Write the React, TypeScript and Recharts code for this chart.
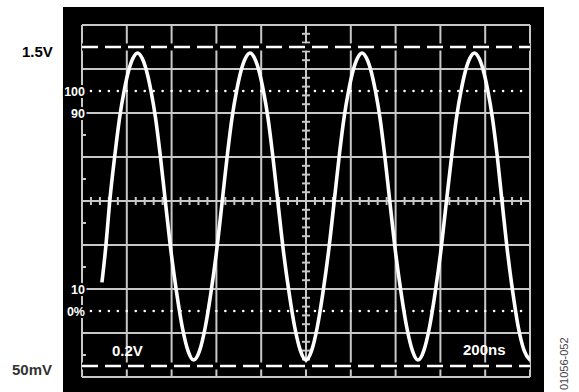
import React from 'react';
import { LineChart, Line, XAxis, YAxis, ReferenceLine } from 'recharts';

// Waveform: time (ns) and voltage (V)
const TIME_NS = [
  89, 107, 123, 148, 168, 188, 208, 228, 248, 268, 288, 308, 328, 348, 373, 398, 423, 448, 473, 498,
  525, 550, 575, 600, 625, 650, 670, 690, 710, 730, 750, 770, 790, 810, 830, 850, 875, 900, 925, 950, 975, 1000,
  1025, 1050, 1075, 1100, 1125, 1150, 1170, 1190, 1210, 1230, 1250, 1270, 1290, 1310, 1330, 1350, 1375, 1400, 1425, 1450, 1475, 1500,
  1526, 1551, 1576, 1601, 1626, 1652, 1672, 1692, 1712, 1732, 1752, 1772, 1792, 1812, 1832, 1852, 1876, 1900, 1924, 1948, 1974, 2000,
];
const VOLTS = [
  0.43, 0.6, 0.79, 1.02, 1.18, 1.3, 1.392, 1.45, 1.473, 1.45, 1.392, 1.3, 1.18, 1.02, 0.79, 0.565, 0.38, 0.225, 0.12, 0.077,
  0.12, 0.225, 0.38, 0.565, 0.79, 1.02, 1.18, 1.3, 1.392, 1.45, 1.473, 1.45, 1.392, 1.3, 1.18, 1.02, 0.79, 0.565, 0.38, 0.225, 0.12, 0.077,
  0.12, 0.225, 0.38, 0.565, 0.79, 1.02, 1.18, 1.3, 1.392, 1.45, 1.473, 1.45, 1.392, 1.3, 1.18, 1.02, 0.79, 0.565, 0.38, 0.225, 0.12, 0.077,
  0.12, 0.225, 0.38, 0.565, 0.79, 1.02, 1.18, 1.3, 1.392, 1.45, 1.473, 1.45, 1.392, 1.3, 1.18, 1.02, 0.79, 0.565, 0.38, 0.225, 0.12, 0.077,
];

// Graticule divisions
const X_DIVS = [0, 200, 400, 600, 800, 1000, 1200, 1400, 1600, 1800, 2000];
const Y_DIVS = [0, 0.2, 0.4, 0.6, 0.8, 1.0, 1.2, 1.4, 1.6];
const X_CENTER = 1000;
const Y_CENTER = 0.8;
const MINOR_PER_DIV = 5;

// Cursor / marker levels
const TOP_CURSOR_V = 1.5;
const BOTTOM_CURSOR_V = 0.05;
const PCT100_V = 1.3;
const PCT0_V = 0.3;

// Text
const TOP_LABEL = '1.5V';
const BOTTOM_LABEL = '50mV';
const VOLT_DIV_LABEL = '0.2V';
const TIME_DIV_LABEL = '200ns';
const FIG_ID = '01056-052';
const PCT_LABELS = ['100', '90', '10', '0%'];
const PCT_LABEL_V = [1.3, 1.2, 0.4, 0.3];

const data = TIME_NS.map((t, i) => ({ t, v: VOLTS[i] }));

const W = 579;
const H = 392;
const M = { top: 25, right: 49, bottom: 15, left: 82 };
const PLOT_W = W - M.left - M.right;
const PLOT_H = H - M.top - M.bottom;
const X_MAX = 2000;
const Y_MAX = 1.6;
const pxToNs = X_MAX / PLOT_W;
const pxToV = Y_MAX / PLOT_H;
const vToPx = (v: number) => M.top + (Y_MAX - v) / pxToV;

const GRID = '#c8c8c8';
const FONT = '"Liberation Sans", Arial, Helvetica, sans-serif';

export default function App() {
  const xStep = 200 / MINOR_PER_DIV;
  const yStep = 0.2 / MINOR_PER_DIV;
  const xMinor: number[] = [];
  for (let k = 1; k < X_MAX / xStep; k++) if (k % MINOR_PER_DIV !== 0) xMinor.push(k * xStep);
  const yMinor: number[] = [];
  for (let k = 1; k < Math.round(Y_MAX / yStep); k++) if (k % MINOR_PER_DIV !== 0) yMinor.push(+(k * yStep).toFixed(3));
  const leftTicks: number[] = [];
  for (let k = 0; k < Y_DIVS.length - 1; k++) leftTicks.push(+(Y_DIVS[k] + 0.1).toFixed(2));
  const tx = 4 * pxToNs;
  const ty = 4 * pxToV;

  return (
    <div style={{ position: 'absolute', left: 0, top: 0, width: W, height: H, background: '#fff', overflow: 'hidden' }}>
      <div style={{ position: 'absolute', left: 63, top: 7, width: 481, height: 390, background: '#000' }} />
      <div style={{ position: 'absolute', left: 0, top: 0 }}>
        <LineChart width={W} height={H} data={data} margin={M}>
          <XAxis dataKey="t" type="number" domain={[0, X_MAX]} hide allowDataOverflow />
          <YAxis type="number" domain={[0, Y_MAX]} hide allowDataOverflow />
          {X_DIVS.map((x) => (
            <ReferenceLine key={'gx' + x} x={x} stroke={GRID} strokeWidth={2} ifOverflow="visible" />
          ))}
          {Y_DIVS.map((y) => (
            <ReferenceLine key={'gy' + y} y={y} stroke={GRID} strokeWidth={2} ifOverflow="visible" />
          ))}
          {xMinor.map((x) => (
            <ReferenceLine
              key={'mx' + x}
              segment={[{ x, y: Y_CENTER - ty }, { x, y: Y_CENTER + ty }]}
              stroke={GRID}
              strokeWidth={2}
              ifOverflow="visible"
            />
          ))}
          {yMinor.map((y) => (
            <ReferenceLine
              key={'my' + y}
              segment={[{ x: X_CENTER - tx, y }, { x: X_CENTER + tx, y }]}
              stroke={GRID}
              strokeWidth={2}
              ifOverflow="visible"
            />
          ))}
          {leftTicks.map((y) => (
            <ReferenceLine
              key={'lt' + y}
              segment={[{ x: 0, y }, { x: tx, y }]}
              stroke={GRID}
              strokeWidth={2}
              ifOverflow="visible"
            />
          ))}
          {[TOP_CURSOR_V, BOTTOM_CURSOR_V].map((y) => (
            <ReferenceLine key={'cb' + y} y={y} stroke="#000" strokeWidth={7} ifOverflow="visible" />
          ))}
          {[TOP_CURSOR_V, BOTTOM_CURSOR_V].map((y) => (
            <ReferenceLine key={'cw' + y} y={y} stroke="#fff" strokeWidth={2.5} strokeDasharray="16 7" ifOverflow="visible" />
          ))}
          {[PCT100_V, PCT0_V].map((y) => (
            <ReferenceLine
              key={'pd' + y}
              y={y}
              stroke="#fff"
              strokeWidth={2.6}
              strokeDasharray="0 8.96"
              strokeLinecap="round"
              ifOverflow="visible"
            />
          ))}
          <Line
            dataKey="v"
            type="monotone"
            stroke="#fff"
            strokeWidth={3.6}
            dot={false}
            activeDot={false}
            isAnimationActive={false}
          />
        </LineChart>
      </div>
      <svg width={W} height={H} style={{ position: 'absolute', left: 0, top: 0, pointerEvents: 'none' }}>
        <text x={22} y={57} fontFamily={FONT} fontWeight="bold" fontSize={15} fill="#000">{TOP_LABEL}</text>
        <text x={12} y={375} fontFamily={FONT} fontWeight="bold" fontSize={15} fill="#333">{BOTTOM_LABEL}</text>
        {PCT_LABELS.map((s, i) => (
          <text
            key={s}
            x={85}
            y={vToPx(PCT_LABEL_V[i]) + 4.5}
            textAnchor="end"
            fontFamily={FONT}
            fontWeight="bold"
            fontSize={12.5}
            fill="#fff"
            stroke="#000"
            strokeWidth={4}
            paintOrder="stroke"
          >
            {s}
          </text>
        ))}
        <text x={112} y={355.5} fontFamily={FONT} fontWeight="bold" fontSize={15} fill="#fff">{VOLT_DIV_LABEL}</text>
        <text x={463} y={355} fontFamily={FONT} fontWeight="bold" fontSize={15} fill="#fff">{TIME_DIV_LABEL}</text>
        <text
          x={568}
          y={390}
          transform="rotate(-90 568 390)"
          fontFamily={FONT}
          fontSize={11}
          fill="#444"
        >
          {FIG_ID}
        </text>
      </svg>
    </div>
  );
}
